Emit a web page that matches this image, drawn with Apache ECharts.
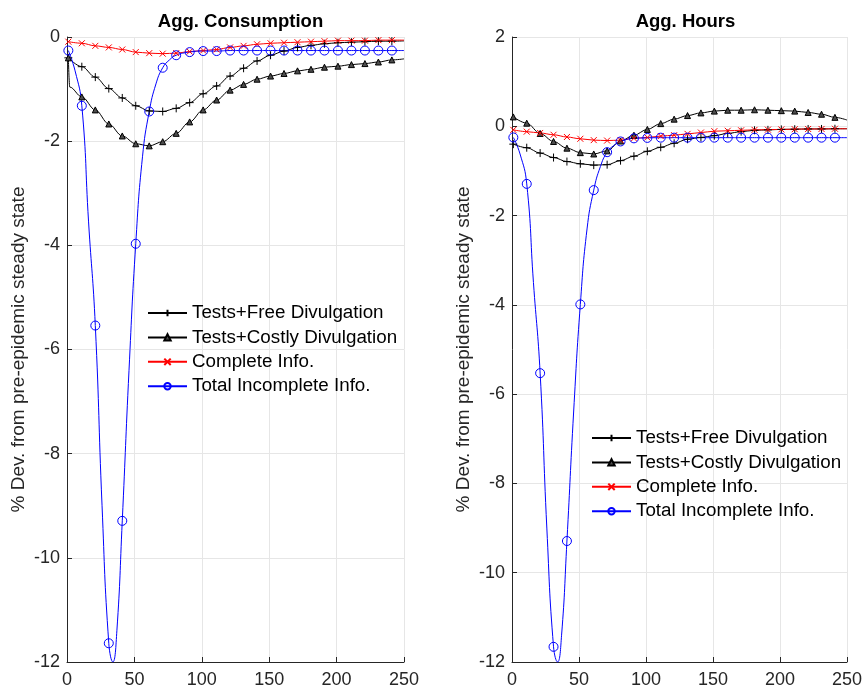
<!DOCTYPE html>
<html>
<head>
<meta charset="utf-8">
<script src="https://cdn.jsdelivr.net/npm/echarts@6/dist/echarts.min.js"></script>
<style>
  html, body { margin: 0; padding: 0; background: #ffffff; }
  #chart { width: 865px; height: 692px; }
</style>
</head>
<body>
<div id="chart"></div>
<script>
// Periods (time steps) at which the responses are sampled; markers every 10 periods from t=1
const tSteps = [1, 11, 21, 31, 41, 51, 61, 71, 81, 91, 101, 111, 121, 131, 141, 151, 161, 171, 181, 191, 201, 211, 221, 231, 241, 250];
const tCostlyCons = [1, 2, 11, 21, 31, 41, 51, 61, 71, 81, 91, 101, 111, 121, 131, 141, 151, 161, 171, 181, 191, 201, 211, 221, 231, 241, 250];
const tIncomplete = [1, 6, 11, 16, 21, 26, 31, 34, 37, 41, 46, 51, 56, 61, 66, 71, 76, 81, 91, 101, 111, 121, 131, 141, 151, 161, 171, 181, 191, 201, 211, 221, 231, 241, 250];

// Aggregate consumption, % deviation from pre-epidemic steady state
const consFree = [-0.40, -0.57, -0.77, -0.99, -1.17, -1.32, -1.42, -1.43, -1.37, -1.26, -1.09, -0.94, -0.75, -0.60, -0.46, -0.35, -0.27, -0.20, -0.16, -0.13, -0.11, -0.10, -0.09, -0.08, -0.08, -0.075];
const consCostly = [-0.40, -0.96, -1.15, -1.40, -1.67, -1.90, -2.05, -2.09, -2.01, -1.85, -1.63, -1.40, -1.21, -1.02, -0.91, -0.81, -0.75, -0.70, -0.65, -0.62, -0.58, -0.56, -0.53, -0.51, -0.48, -0.44, -0.42];
const consComplete = [-0.09, -0.12, -0.17, -0.20, -0.24, -0.29, -0.31, -0.32, -0.31, -0.28, -0.26, -0.24, -0.20, -0.17, -0.14, -0.12, -0.11, -0.10, -0.09, -0.08, -0.07, -0.07, -0.07, -0.06, -0.06, -0.06];
const consIncomplete = [-0.26, -0.65, -1.32, -3.55, -5.54, -9.0, -11.64, -12.0, -11.4, -9.29, -6.4, -3.97, -2.3, -1.43, -0.9, -0.59, -0.44, -0.35, -0.29, -0.27, -0.27, -0.26, -0.26, -0.26, -0.26, -0.26, -0.26, -0.26, -0.26, -0.26, -0.26, -0.26, -0.26, -0.26, -0.26];

// Aggregate hours, % deviation from pre-epidemic steady state
const hoursFree = [-0.40, -0.48, -0.60, -0.70, -0.79, -0.84, -0.87, -0.86, -0.77, -0.67, -0.56, -0.47, -0.38, -0.29, -0.25, -0.21, -0.16, -0.12, -0.09, -0.08, -0.07, -0.065, -0.06, -0.06, -0.055, -0.055];
const hoursCostly = [0.21, 0.07, -0.16, -0.34, -0.49, -0.59, -0.62, -0.55, -0.33, -0.20, -0.07, 0.06, 0.16, 0.24, 0.30, 0.34, 0.36, 0.36, 0.37, 0.36, 0.35, 0.34, 0.31, 0.27, 0.20, 0.14];
const hoursComplete = [-0.08, -0.12, -0.15, -0.19, -0.24, -0.28, -0.31, -0.32, -0.31, -0.27, -0.25, -0.22, -0.20, -0.17, -0.14, -0.11, -0.10, -0.09, -0.08, -0.075, -0.07, -0.065, -0.06, -0.06, -0.055, -0.055];
const hoursIncomplete = [-0.25, -0.62, -1.29, -3.5, -5.53, -9.0, -11.66, -12.0, -11.4, -9.29, -6.4, -3.99, -2.3, -1.43, -0.9, -0.58, -0.43, -0.34, -0.27, -0.26, -0.255, -0.255, -0.255, -0.255, -0.255, -0.255, -0.255, -0.255, -0.255, -0.255, -0.255, -0.255, -0.255, -0.255, -0.255];

// Labels
const titles = ['Agg. Consumption', 'Agg. Hours'];
const seriesNames = ['Tests+Free Divulgation', 'Tests+Costly Divulgation', 'Complete Info.', 'Total Incomplete Info.'];
const yAxisName = '% Dev. from pre-epidemic steady state';

const FONT = '"Liberation Sans", Arial, Helvetica, sans-serif';
const TEXT = '#262626';
const GRID_LINE = '#e6e6e6';
const PLUS = 'path://M5,0L5,10M0,5L10,5';
const CROSS = 'path://M0,0L10,10M0,10L10,0';

// Marker look for each scenario
const looks = [
  { symbol: PLUS, size: 8, line: '#000000', fill: 'rgba(0,0,0,0)', border: '#000000', monotone: 'x' },
  { symbol: 'triangle', size: 6, line: '#000000', fill: '#4d4d4d', border: '#000000', monotone: 'x' },
  { symbol: CROSS, size: 6, line: '#ff0000', fill: 'rgba(0,0,0,0)', border: '#ff0000', monotone: 'x' },
  { symbol: 'circle', size: 9, line: '#0000ff', fill: 'rgba(0,0,0,0)', border: '#0000ff', monotone: null }
];

// Only every tenth period (1, 11, ..., 241) carries a marker
function toPoints(ts, vs) {
  return ts.map(function (t, i) {
    const item = { value: [t, vs[i]] };
    if (!(t % 10 === 1 && t <= 241)) item.symbol = 'none';
    return item;
  });
}

function makeSeries(k, gridIdx, ts, vs) {
  const lk = looks[k];
  const s = {
    type: 'line',
    name: seriesNames[k],
    xAxisIndex: gridIdx,
    yAxisIndex: gridIdx,
    data: toPoints(ts, vs),
    smooth: lk.monotone ? 0.35 : 0.5,
    showAllSymbol: true,
    symbol: lk.symbol,
    symbolSize: lk.size,
    lineStyle: { color: lk.line, width: 1 },
    itemStyle: { color: lk.fill, borderColor: lk.border, borderWidth: 1 },
    emphasis: { disabled: true },
    animation: false
  };
  if (lk.monotone) s.smoothMonotone = lk.monotone;
  return s;
}

const grids = [
  { left: 67, top: 37, width: 337, height: 625 },
  { left: 512, top: 37, width: 337, height: 625 }
];

function xAxisFor(i) {
  return {
    gridIndex: i, type: 'value', min: 0, max: 250, interval: 50,
    axisLine: { show: true, onZero: false, lineStyle: { color: TEXT, width: 1 } },
    axisTick: { show: true, inside: true, length: 5, lineStyle: { color: TEXT } },
    axisLabel: { color: TEXT, fontSize: 18, fontFamily: FONT, margin: 9 },
    splitLine: { show: true, lineStyle: { color: GRID_LINE, width: 1 } }
  };
}

function yAxisFor(i, min, max) {
  return {
    gridIndex: i, type: 'value', min: min, max: max, interval: 2,
    name: yAxisName, nameLocation: 'middle', nameGap: 39,
    nameTextStyle: { color: TEXT, fontSize: 19, fontFamily: FONT },
    axisLine: { show: true, onZero: false, lineStyle: { color: TEXT, width: 1 } },
    axisTick: { show: true, inside: true, length: 5, lineStyle: { color: TEXT } },
    axisLabel: { color: TEXT, fontSize: 18, fontFamily: FONT, margin: 7 },
    splitLine: { show: true, lineStyle: { color: GRID_LINE, width: 1 } }
  };
}

function legendAt(left, top) {
  return {
    orient: 'vertical', left: left, top: top, padding: 0,
    itemWidth: 39, itemHeight: 8, itemGap: 4.4,
    selectedMode: false,
    textStyle: { color: '#000000', fontSize: 18.8, fontFamily: FONT, lineHeight: 20 },
    data: seriesNames
  };
}

const chart = echarts.init(document.getElementById('chart'));
chart.setOption({
  backgroundColor: '#ffffff',
  animation: false,
  title: [
    { text: titles[0], left: 235.5, top: 7, textAlign: 'center',
      textStyle: { color: '#000000', fontSize: 18.5, fontWeight: 'bold', fontFamily: FONT } },
    { text: titles[1], left: 680.5, top: 7, textAlign: 'center',
      textStyle: { color: '#000000', fontSize: 18.5, fontWeight: 'bold', fontFamily: FONT } }
  ],
  legend: [legendAt(147, 303), legendAt(591, 428)],
  grid: grids,
  xAxis: [xAxisFor(0), xAxisFor(1)],
  yAxis: [yAxisFor(0, -12, 0), yAxisFor(1, -12, 2)],
  series: [
    makeSeries(0, 0, tSteps, consFree),
    makeSeries(1, 0, tCostlyCons, consCostly),
    makeSeries(2, 0, tSteps, consComplete),
    makeSeries(3, 0, tIncomplete, consIncomplete),
    makeSeries(0, 1, tSteps, hoursFree),
    makeSeries(1, 1, tSteps, hoursCostly),
    makeSeries(2, 1, tSteps, hoursComplete),
    makeSeries(3, 1, tIncomplete, hoursIncomplete)
  ]
});
</script>
</body>
</html>
